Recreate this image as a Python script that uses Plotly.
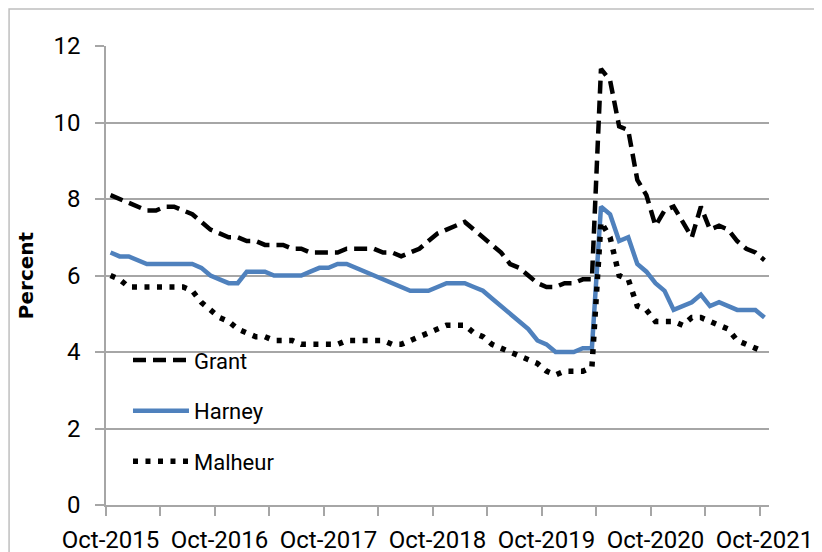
import plotly.graph_objects as go

# ---- data (monthly, Oct-2015 .. Oct-2021) ----
month_names = ["Jan", "Feb", "Mar", "Apr", "May", "Jun",
               "Jul", "Aug", "Sep", "Oct", "Nov", "Dec"]
months = []
for k in range(73):
    m = (9 + k) % 12
    y = 2015 + (9 + k) // 12
    months.append(f"{month_names[m]}-{y}")

grant = [8.1, 8.0, 7.9, 7.8, 7.7, 7.7, 7.8, 7.8, 7.7, 7.6,
         7.4, 7.2, 7.1, 7.0, 7.0, 6.9, 6.9, 6.8, 6.8, 6.8,
         6.7, 6.7, 6.6, 6.6, 6.6, 6.6, 6.7, 6.7, 6.7, 6.7,
         6.6, 6.6, 6.5, 6.6, 6.7, 6.9, 7.1, 7.2, 7.3, 7.4,
         7.2, 7.0, 6.8, 6.6, 6.3, 6.2, 6.0, 5.8, 5.7, 5.7,
         5.8, 5.8, 5.9, 5.9, 11.4, 11.1, 9.9, 9.8, 8.5, 8.1,
         7.3, 7.7, 7.8, 7.4, 7.0, 7.8, 7.2, 7.3, 7.2, 6.9,
         6.7, 6.6, 6.4]

harney = [6.6, 6.5, 6.5, 6.4, 6.3, 6.3, 6.3, 6.3, 6.3, 6.3,
          6.2, 6.0, 5.9, 5.8, 5.8, 6.1, 6.1, 6.1, 6.0, 6.0,
          6.0, 6.0, 6.1, 6.2, 6.2, 6.3, 6.3, 6.2, 6.1, 6.0,
          5.9, 5.8, 5.7, 5.6, 5.6, 5.6, 5.7, 5.8, 5.8, 5.8,
          5.7, 5.6, 5.4, 5.2, 5.0, 4.8, 4.6, 4.3, 4.2, 4.0,
          4.0, 4.0, 4.1, 4.1, 7.8, 7.6, 6.9, 7.0, 6.3, 6.1,
          5.8, 5.6, 5.1, 5.2, 5.3, 5.5, 5.2, 5.3, 5.2, 5.1,
          5.1, 5.1, 4.9]

malheur = [6.0, 5.9, 5.7, 5.7, 5.7, 5.7, 5.7, 5.7, 5.7, 5.6,
           5.3, 5.1, 4.9, 4.8, 4.6, 4.5, 4.4, 4.4, 4.3, 4.3,
           4.3, 4.2, 4.2, 4.2, 4.2, 4.2, 4.3, 4.3, 4.3, 4.3,
           4.3, 4.2, 4.2, 4.3, 4.4, 4.5, 4.6, 4.7, 4.7, 4.7,
           4.5, 4.4, 4.2, 4.1, 4.0, 3.9, 3.8, 3.7, 3.5, 3.4,
           3.5, 3.5, 3.5, 3.6, 7.4, 7.0, 6.0, 5.9, 5.2, 5.1,
           4.8, 4.8, 4.8, 4.7, 4.9, 4.9, 4.8, 4.7, 4.6, 4.3,
           4.2, 4.1, 4.0]

y_ticks = [0, 2, 4, 6, 8, 10, 12]
label_every = 12
tick_every = 6

# ---- figure ----
x = list(range(len(months)))
GRID = "#A6A6A6"
FONT = "Roboto, 'Liberation Sans', sans-serif"

fig = go.Figure()
fig.add_trace(go.Scatter(x=x, y=grant, name="Grant", mode="lines",
                         legendgroup="g1",
                         line=dict(color="black", width=4.5, dash="13px,7px")))
fig.add_trace(go.Scatter(x=x, y=harney, name="Harney", mode="lines",
                         legendgroup="g2",
                         line=dict(color="#4F81BD", width=4.5)))
fig.add_trace(go.Scatter(x=x, y=malheur, name="Malheur", mode="lines",
                         legendgroup="g3",
                         line=dict(color="black", width=5.5, dash="5px,7.5px")))

label_vals = x[::label_every]
label_text = [months[i] for i in label_vals]
minor_vals = [i - 0.5 for i in x[::tick_every]]

fig.update_xaxes(
    range=[-0.5, len(months) - 0.5],
    tickmode="array", tickvals=label_vals, ticktext=label_text,
    ticks="", showgrid=False, zeroline=False,
    showline=True, linecolor=GRID, linewidth=1.5,
    ticklabelstandoff=12,
    tickfont=dict(family=FONT, size=24, color="black"),
    minor=dict(tickmode="array", tickvals=minor_vals, ticks="outside",
               ticklen=9, tickwidth=1.5, tickcolor=GRID, showgrid=False),
)
fig.update_yaxes(
    range=[0, 12], tickmode="array", tickvals=y_ticks,
    ticks="outside", ticklen=9, tickwidth=1.5, tickcolor=GRID,
    showgrid=True, gridcolor=GRID, gridwidth=1.5, zeroline=False,
    showline=True, linecolor=GRID, linewidth=1.5,
    ticklabelstandoff=10,
    tickfont=dict(family=FONT, size=24, color="black"),
    title=dict(text="<b>Percent</b>", standoff=14,
               font=dict(family="'DejaVu Sans', sans-serif", size=20, color="black")),
)

# page body has an 8px offset; target plot-area pixels are compensated below
OFF = 8
W, H = 822, 552
L = 106 - OFF
T = 46 - OFF
R = W - (769.5 - OFF)
B = H - (504.6 - OFF)
pw, ph = W - L - R, H - T - B

fig.update_layout(
    width=W, height=H,
    margin=dict(l=L, r=R, t=T, b=B, pad=0, autoexpand=False),
    plot_bgcolor="white", paper_bgcolor="white",
    showlegend=True,
    legend=dict(x=(128 - 106) / pw, y=(504.6 - 339) / ph, xanchor="left", yanchor="top",
                bgcolor="rgba(0,0,0,0)", itemwidth=56, tracegroupgap=19,
                font=dict(family=FONT, size=22, color="black")),
    shapes=[dict(type="rect", xref="paper", yref="paper", layer="below",
                 x0=(1 - L) / pw, x1=(840 - L) / pw,
                 y0=(504.6 - 580) / ph, y1=1 + (46 - 9) / ph,
                 line=dict(color="#BFBFBF", width=1.5))],
)

fig.write_html("out.html")
